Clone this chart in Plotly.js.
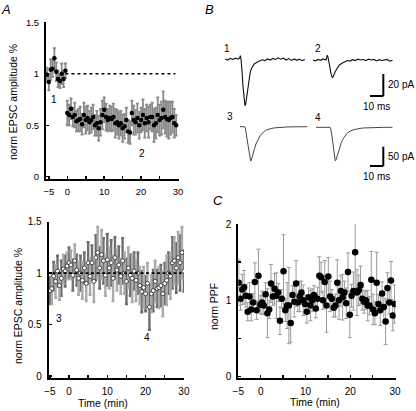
<!DOCTYPE html>
<html><head><meta charset="utf-8">
<script src="https://cdn.plot.ly/plotly-3.0.1.min.js"></script>
<style>html,body{margin:0;padding:0;background:#fff}#chart{width:416px;height:411px}</style>
</head><body><div id="chart"></div>
<script>
// ---------- Panel A (top): EPSC amplitude, filled circles ----------
const timesA1pre = [-5.5,-5,-4.5,-4,-3.5,-3,-2.5,-2,-1.5,-1,-0.5];
const ampA1pre   = [0.99,0.92,1.04,1.05,1.15,1.02,0.95,0.93,1.0,0.95,1.03];
const errA1pre   = [0.07,0.08,0.1,0.08,0.1,0.09,0.08,0.07,0.1,0.08,0.07];
const timesA1post = [0,0.5,1,1.5,2,2.5,3,3.5,4,4.5,
  5,5.5,6,6.5,7,7.5,8,8.5,9,9.5,
  10,10.5,11,11.5,12,12.5,13,13.5,14,14.5,
  15,15.5,16,16.5,17,17.5,18,18.5,19,19.5,
  20,20.5,21,21.5,22,22.5,23,23.5,24,24.5,
  25,25.5,26,26.5,27,27.5,28,28.5,29,29.5];
const ampA1post = [0.62,0.6,0.66,0.58,0.6,0.54,0.55,0.56,0.51,0.6,
  0.55,0.57,0.53,0.55,0.58,0.5,0.52,0.47,0.53,0.6,
  0.65,0.58,0.55,0.57,0.56,0.58,0.52,0.53,0.5,0.52,
  0.47,0.49,0.55,0.44,0.43,0.62,0.55,0.53,0.57,0.5,
  0.55,0.6,0.52,0.57,0.53,0.58,0.58,0.5,0.52,0.6,
  0.55,0.57,0.65,0.58,0.56,0.55,0.57,0.58,0.52,0.5];
const errA1post = [0.12,0.1,0.1,0.09,0.12,0.1,0.11,0.12,0.1,0.12,
  0.13,0.12,0.11,0.12,0.12,0.1,0.12,0.12,0.13,0.14,
  0.12,0.13,0.11,0.12,0.12,0.13,0.14,0.12,0.13,0.12,
  0.13,0.12,0.12,0.11,0.11,0.12,0.14,0.12,0.14,0.13,
  0.12,0.15,0.14,0.13,0.15,0.12,0.14,0.16,0.15,0.17,
  0.15,0.16,0.18,0.16,0.17,0.18,0.16,0.15,0.14,0.1];

// ---------- Panel A (bottom): EPSC amplitude, open circles ----------
const timesA2 = [-5,-4.5,-4,-3.5,-3,-2.5,-2,-1.5,-1,-0.5,
  0,0.5,1,1.5,2,2.5,3,3.5,4,4.5,
  5,5.5,6,6.5,7,7.5,8,8.5,9,9.5,
  10,10.5,11,11.5,12,12.5,13,13.5,14,14.5,
  15,15.5,16,16.5,17,17.5,18,18.5,19,19.5,
  20,20.5,21,21.5,22,22.5,23,23.5,24,24.5,
  25,25.5,26,26.5,27,27.5,28,28.5,29,29.5,30];
const ampA2 = [0.83,0.85,0.97,0.92,1.02,0.88,0.95,1.04,1.02,1.07,
  1.1,1.08,0.98,1.12,1.03,0.95,1.0,0.93,1.05,0.9,
  1.1,0.97,1.1,0.92,1.15,1.2,1.05,1.18,1.12,0.98,
  1.13,1.05,1.1,0.95,1.15,1.03,1.08,0.97,1.12,1.0,
  0.92,1.05,0.98,0.95,1.02,0.93,1.0,0.88,0.82,0.86,
  0.8,0.9,0.67,0.8,0.83,0.92,0.85,0.86,0.88,0.8,
  0.9,0.93,1.0,0.97,1.1,1.12,1.05,1.15,1.1,1.2,1.02];
const errA2 = [0.13,0.15,0.14,0.16,0.15,0.14,0.17,0.14,0.15,0.13,
  0.15,0.14,0.15,0.16,0.15,0.16,0.17,0.18,0.15,0.17,
  0.2,0.18,0.17,0.2,0.22,0.25,0.2,0.24,0.22,0.2,
  0.25,0.2,0.22,0.22,0.2,0.2,0.18,0.17,0.22,0.2,
  0.22,0.2,0.2,0.23,0.18,0.2,0.2,0.18,0.2,0.2,
  0.17,0.2,0.22,0.18,0.2,0.2,0.18,0.2,0.2,0.22,
  0.2,0.24,0.2,0.22,0.25,0.23,0.24,0.25,0.27,0.25,0.2];

// ---------- Panel C: paired-pulse facilitation ----------
const timesC = [-4.9,-4.5,-4.1,-3.7,-3.3,-2.9,-2.5,-2.1,-1.7,-1.3,
  -0.9,-0.5,-0.1,0.3,0.7,1.1,1.5,1.9,2.3,2.7,
  3.1,3.5,3.9,4.3,4.7,5.1,5.5,5.9,6.3,6.7,
  7.1,7.5,7.9,8.3,8.7,9.1,9.5,9.9,10.3,10.7,
  11.1,11.5,11.9,12.3,12.7,13.1,13.5,13.9,14.3,14.7,
  15.1,15.5,15.9,16.3,16.7,17.1,17.5,17.9,18.3,18.7,
  19.1,19.5,19.9,20.3,20.7,21.1,21.5,21.9,22.3,22.7,
  23.1,23.5,23.9,24.3,24.7,25.1,25.5,25.9,26.3,26.7,
  27.1,27.5,27.9,28.3,28.7,29.1,29.5,29.9];
const ppfC = [1.23,1.02,1.14,1.17,1.06,0.85,1.05,0.88,0.97,1.24,
  0.87,1.32,0.94,0.97,0.93,1.08,0.83,0.88,1.22,1.05,
  1.15,1.06,1.1,0.73,1.02,1.38,0.87,0.93,0.93,0.7,
  1.07,0.98,1.22,0.97,1.05,1.1,1.0,0.95,0.85,1.04,
  0.93,1.0,1.07,0.89,1.02,1.32,1.3,1.0,1.24,0.93,
  1.31,1.05,1.02,0.9,0.93,1.23,1.0,1.12,1.04,1.1,
  0.96,1.37,0.81,1.06,1.12,1.63,1.1,1.13,1.2,1.02,
  0.98,1.0,0.93,0.93,1.27,0.88,0.83,1.23,0.95,0.87,
  1.09,0.91,0.72,1.16,0.97,1.26,0.8,0.95];
const errC = [0.3,0.15,0.2,0.22,0.15,0.12,0.18,0.15,0.12,0.25,
  0.12,0.35,0.12,0.15,0.12,0.15,0.32,0.12,0.25,0.12,
  0.2,0.3,0.12,0.18,0.12,0.48,0.15,0.3,0.5,0.25,
  0.12,0.2,0.3,0.12,0.2,0.15,0.2,0.12,0.15,0.12,
  0.2,0.15,0.12,0.12,0.15,0.25,0.2,0.12,0.28,0.35,
  0.25,0.2,0.12,0.12,0.15,0.3,0.25,0.2,0.3,0.15,
  0.2,0.25,0.3,0.15,0.25,0.5,0.3,0.2,0.25,0.15,
  0.15,0.12,0.2,0.12,0.37,0.2,0.15,0.4,0.12,0.2,
  0.15,0.2,0.3,0.2,0.15,0.25,0.2,0.25];

// ---------- Panel B: example current traces (ms, pA) ----------
const trace1T = [0,2,4,6,8,10,11,11.5,12,12.5,13,13.5,14,14.5,15,15.5,16,16.5,17,18,19,20,21,22,
  24,26,28,30,32,34,36,38,40,42,44,46,48,50,52,54,56,58,60];
const trace1I = [0.5,-0.5,1,0,1.2,0.3,1.5,3.5,1,-5,-14,-24,-33,-39,-42,-41,-37,-31,-25,-17,-11.5,-8,-5.5,-4,
  -2.5,-1.2,-0.3,-1,0.5,-0.5,1,0,1.5,0.3,1.2,-0.5,0.8,-0.8,0.5,-0.7,0.3,-1,0];
const trace2T = [0,2,4,6,8,10,10.5,11,11.5,12,12.5,13,13.5,14,14.5,15,15.5,16,17,18,19,20,
  22,24,26,28,30,32,34,36,38,40,42,44,46,48,50,52,54,56,58,60];
const trace2I = [0,-0.8,0.5,-0.3,1,0,2,4.5,2.5,0,-3,-7,-11,-14,-15.5,-16,-15,-13.5,-10.5,-8,-6,-4.5,
  -3,-1.8,-0.5,-1,0.3,-0.5,0.8,0,0.5,-0.5,0.8,0,0.5,-0.8,0.3,-0.5,0,0.5,-1,-0.3];
const trace3T = [0,1,2,3,3.5,4,4.5,5,5.5,6,6.5,7,7.5,8,8.5,9,9.5,10,
  11,12,13,14,15,16,17,18,19,20,22,24,26,28,30,33,36,39,42,45,48,50.5];
const trace3I = [0,0,0,0.3,0,-4,-15,-28,-41,-53,-64,-74,-83,-89,-87,-82,-75,-68,
  -56,-45,-37,-30,-24,-19.5,-15.5,-12.5,-10,-8.3,-5.8,-4.2,-3,-2.2,-1.6,-1,-0.6,-0.4,-0.2,-0.1,0,0];
const trace4T = [0,2,4,6,8,9,10,10.5,11,11.5,12,12.5,13,13.5,14,14.5,15,15.5,16,
  17,18,19,20,21,22,23,24,25,26,28,30,32,34,36,39,42,45,48,51,54,57.5];
const trace4I = [0,0,0.3,0,0,0,0,0,-2,-10,-22,-36,-50,-64,-78,-87,-85,-79,-72,
  -60,-49,-40,-32,-26,-21,-17,-14,-11.5,-9.5,-6.5,-4.6,-3.3,-2.4,-1.7,-1,-0.6,-0.4,-0.2,-0.1,0,0];
const traceLabels = ['1','2','3','4'];
const scaleTop = {ms: 10, pA: 20};
const scaleBottom = {ms: 10, pA: 50};
const BASELINE = 1;

// ---------- Tick labels ----------
const xTickVals = [-5,0,5,10,15,20,25,30];
const xTickText = ['\u22125','0','','10','','20','','30'];
const yTickValsA = [0,0.5,1,1.5];
const yTickTextA = ['0','0.5','1','1.5'];
const yTickValsC = [0,0.5,1,1.5,2];
const yTickTextC = ['0','','1','','2'];

// ---------- layout helpers ----------
const W = 416, H = 411;
const fx = p => p / W;
const fy = p => 1 - p / H;
const FONT = 'Liberation Sans, Arial, Helvetica, sans-serif';

function dataAxis(domain, range, anchor, size, tv, tt) {
  return {domain, range, anchor, showline: true, linewidth: 2, linecolor: '#000',
    ticks: 'inside', ticklen: 3, tickwidth: 1.5, tickcolor: '#000',
    showgrid: false, zeroline: false, fixedrange: true,
    tickmode: 'array', tickvals: tv, ticktext: tt,
    tickfont: {family: FONT, size: size, color: '#000'}, ticklabelstandoff: 3};
}
function hiddenAxis(domain, range, anchor) {
  return {domain, range, anchor, visible: false, fixedrange: true,
    showgrid: false, zeroline: false};
}

const traces = [];
// top A
traces.push({x: timesA1pre, y: ampA1pre, xaxis: 'x', yaxis: 'y', mode: 'markers', type: 'scatter',
  marker: {color: '#000', size: 4.5},
  error_y: {type: 'data', array: errA1pre, color: '#8a8a8a', thickness: 1.8, width: 1.5}});
traces.push({x: timesA1post, y: ampA1post, xaxis: 'x', yaxis: 'y', mode: 'markers', type: 'scatter',
  marker: {color: '#000', size: 4.5},
  error_y: {type: 'data', array: errA1post, color: '#8a8a8a', thickness: 1.8, width: 1.5}});
// bottom A: alternating grey error bars, then open circles on top
const idx = timesA2.map((t, i) => i);
[[0, '#6e6e6e'], [1, '#aaaaaa']].forEach(([par, col]) => {
  const sel = idx.filter(i => i % 2 === par);
  traces.push({x: sel.map(i => timesA2[i]), y: sel.map(i => ampA2[i]), xaxis: 'x2', yaxis: 'y2',
    mode: 'markers', type: 'scatter', marker: {size: 1, opacity: 0},
    error_y: {type: 'data', array: sel.map(i => errA2[i]), color: col, thickness: 2.4, width: 1.5}});
});
traces.push({x: timesA2, y: ampA2, xaxis: 'x2', yaxis: 'y2', mode: 'markers', type: 'scatter',
  marker: {color: '#fff', size: 4, line: {color: '#333', width: 0.9}}});
// C
traces.push({x: timesC, y: ppfC, xaxis: 'x3', yaxis: 'y3', mode: 'markers', type: 'scatter',
  marker: {color: '#000', size: 6.5},
  error_y: {type: 'data', array: errC, color: '#9a9a9a', thickness: 1, width: 2}});
// B traces
traces.push({x: trace1T, y: trace1I, xaxis: 'x4', yaxis: 'y4', mode: 'lines', type: 'scatter',
  line: {color: '#111', width: 1.1}});
traces.push({x: trace2T, y: trace2I, xaxis: 'x5', yaxis: 'y5', mode: 'lines', type: 'scatter',
  line: {color: '#111', width: 1.1}});
traces.push({x: trace3T, y: trace3I, xaxis: 'x6', yaxis: 'y6', mode: 'lines', type: 'scatter',
  line: {color: '#444', width: 1}});
traces.push({x: trace4T, y: trace4I, xaxis: 'x7', yaxis: 'y7', mode: 'lines', type: 'scatter',
  line: {color: '#444', width: 1}});

// scale bar anchors (ms, pA) in trace 2 and trace 4 coordinates
const sbTop = {x: 53.1, y: -32.7};
const sbBot = {x: 50.6, y: -100.3};
const shapes = [
  {type: 'line', xref: 'x', yref: 'y', x0: -0.5, x1: 29.3, y0: BASELINE, y1: BASELINE,
   line: {color: '#000', width: 1.6, dash: '3px,3px'}, layer: 'above'},
  {type: 'line', xref: 'x2', yref: 'y2', x0: -4.3, x1: 29.4, y0: BASELINE, y1: BASELINE,
   line: {color: '#000', width: 1.8, dash: '3px,2.5px'}, layer: 'above'},
  {type: 'line', xref: 'x5', yref: 'y5', x0: sbTop.x - scaleTop.ms, x1: sbTop.x, y0: sbTop.y, y1: sbTop.y, line: {color: '#000', width: 2}},
  {type: 'line', xref: 'x5', yref: 'y5', x0: sbTop.x, x1: sbTop.x, y0: sbTop.y, y1: sbTop.y + scaleTop.pA, line: {color: '#000', width: 2}},
  {type: 'line', xref: 'x7', yref: 'y7', x0: sbBot.x - scaleBottom.ms, x1: sbBot.x, y0: sbBot.y, y1: sbBot.y, line: {color: '#000', width: 2}},
  {type: 'line', xref: 'x7', yref: 'y7', x0: sbBot.x, x1: sbBot.x, y0: sbBot.y, y1: sbBot.y + scaleBottom.pA, line: {color: '#000', width: 2}}
];

const txt = (text, px, py, size, extra) => Object.assign({text, xref: 'paper', yref: 'paper',
  x: fx(px), y: fy(py), xanchor: 'center', yanchor: 'middle', showarrow: false,
  font: {family: FONT, size: size, color: '#000'}}, extra || {});

const annotations = [
  txt('<i>A</i>', 6, 10, 13),
  txt('<i>B</i>', 209, 10, 13),
  txt('<i>C</i>', 218, 200, 13),
  txt('norm EPSC amplitude %', 13, 102, 10.5, {textangle: -90}),
  txt('norm EPSC amplitude %', 18, 306, 10.5, {textangle: -90}),
  txt('norm PPF', 214, 306, 10.5, {textangle: -90}),
  txt('Time (min)', 103, 403, 10.5),
  txt('Time (min)', 315, 402, 10.5),
  txt('1', 54, 99, 10),
  txt('2', 141.7, 153, 10),
  txt('3', 59, 318, 10),
  txt('4', 146.7, 337.5, 10),
  txt(traceLabels[0], 227, 49, 10),
  txt(traceLabels[1], 318, 49, 10),
  txt(traceLabels[2], 230, 116, 10),
  txt(traceLabels[3], 318, 118, 10),
  {text: scaleTop.pA + ' pA', xref: 'x5', yref: 'y5', x: sbTop.x, y: sbTop.y + scaleTop.pA / 2,
   xanchor: 'left', yanchor: 'middle', xshift: 3, showarrow: false, font: {family: FONT, size: 10, color: '#000'}},
  {text: scaleTop.ms + ' ms', xref: 'x5', yref: 'y5', x: sbTop.x - scaleTop.ms / 2, y: sbTop.y,
   xanchor: 'center', yanchor: 'top', yshift: -3, showarrow: false, font: {family: FONT, size: 10, color: '#000'}},
  {text: scaleBottom.pA + ' pA', xref: 'x7', yref: 'y7', x: sbBot.x, y: sbBot.y + scaleBottom.pA / 2,
   xanchor: 'left', yanchor: 'middle', xshift: 3, showarrow: false, font: {family: FONT, size: 10, color: '#000'}},
  {text: scaleBottom.ms + ' ms', xref: 'x7', yref: 'y7', x: sbBot.x - scaleBottom.ms / 2, y: sbBot.y,
   xanchor: 'center', yanchor: 'top', yshift: -3, showarrow: false, font: {family: FONT, size: 10, color: '#000'}}
];

const layout = {
  width: W, height: H, margin: {l: 0, r: 0, t: 0, b: 0},
  paper_bgcolor: '#fff', plot_bgcolor: 'rgba(0,0,0,0)',
  showlegend: false, hovermode: false,
  font: {family: FONT, color: '#000'},
  xaxis: dataAxis([fx(46), fx(179)], [-5.77, 30.27], 'y', 9.5, xTickVals, xTickText),
  yaxis: dataAxis([fy(179), fy(22)], [-0.022, 1.503], 'x', 9.5, yTickValsA, yTickTextA),
  xaxis2: dataAxis([fx(48.7), fx(184)], [-5.3, 30.03], 'y2', 10, xTickVals, xTickText),
  yaxis2: dataAxis([fy(378), fy(221.7)], [-0.019, 1.5], 'x2', 10, yTickValsA, yTickTextA),
  xaxis3: dataAxis([fx(238.3), fx(395.7)], [-5, 30.15], 'y3', 10, xTickVals, xTickText),
  yaxis3: dataAxis([fy(378), fy(224)], [-0.02, 2], 'x3', 10, yTickValsC, yTickTextC),
  xaxis4: hiddenAxis([fx(225), fx(306)], [0, 60.9], 'y4'),
  yaxis4: hiddenAxis([fy(110), fy(50)], [-45.9, 8.64], 'x4'),
  xaxis5: hiddenAxis([fx(312.7), fx(400)], [0, 65.64], 'y5'),
  yaxis5: hiddenAxis([fy(110), fy(50)], [-45.45, 9.09], 'x5'),
  xaxis6: hiddenAxis([fx(240), fx(310)], [0, 52.63], 'y6'),
  yaxis6: hiddenAxis([fy(172), fy(120)], [-117.4, 17.36], 'x6'),
  xaxis7: hiddenAxis([fx(316), fx(400)], [0, 63.16], 'y7'),
  yaxis7: hiddenAxis([fy(172), fy(120)], [-115.8, 18.9], 'x7'),
  shapes, annotations
};

Plotly.newPlot('chart', traces, layout, {displayModeBar: false, staticPlot: true});
</script></body></html>
